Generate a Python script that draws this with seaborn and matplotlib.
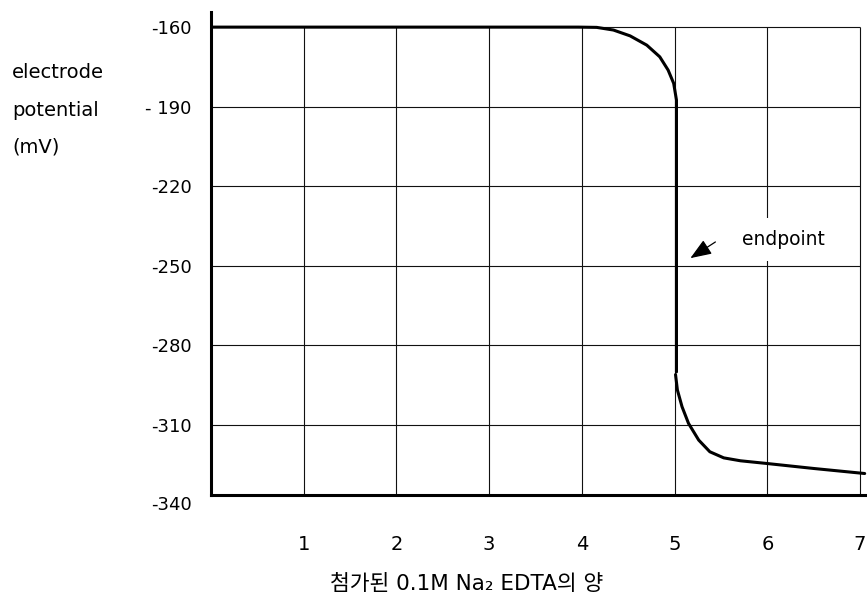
import numpy as np
import pandas as pd
import matplotlib
matplotlib.use('Agg')
import matplotlib.pyplot as plt
import seaborn as sns

# 적정 곡선 값
vol_upper = [0.0, 3.96, 4.16, 4.34, 4.52, 4.70, 4.84, 4.93, 4.99, 5.02, 5.02]
pot_upper = [-160.0, -160.0, -160.1, -161.1, -163.3, -166.8, -171.2, -176.2, -181.2, -187.5, -290.0]
vol_lower = [5.01, 5.03, 5.08, 5.15, 5.26, 5.38, 5.53, 5.71, 5.99, 6.50, 7.05]
pot_lower = [-291.0, -296.8, -303.1, -309.4, -315.7, -320.1, -322.4, -323.5, -324.5, -326.4, -328.3]

x_ticks = [1, 2, 3, 4, 5, 6, 7]
y_ticks = [-160, -190, -220, -250, -280, -310, -340]
y_tick_labels = ['-160', '- 190', '-220', '-250', '-280', '-310', '-340']

df_up = pd.DataFrame({'vol': vol_upper, 'pot': pot_upper})
df_lo = pd.DataFrame({'vol': vol_lower, 'pot': pot_lower})

sns.set_theme(style='white', rc={'text.color': 'black', 'axes.labelcolor': 'black',
                                 'xtick.color': 'black', 'ytick.color': 'black'})
plt.rcParams['font.family'] = ['DejaVu Sans', 'Noto Sans CJK KR']

y_bottom, y_top = -336.4, -154.3
x_left, x_right = 0, 7.075

fig = plt.figure(figsize=(8.67, 6.0), dpi=100)
ax = fig.add_axes([211 / 867, 1 - 495 / 600, (867 - 211) / 867, (495 - 12) / 600])

# 격자선: -160 위로는 그리지 않음
ax.vlines(x_ticks, y_bottom, max(y_ticks), color='#111111', linewidth=0.8, zorder=1)
ax.hlines(y_ticks[:-1], x_left, max(x_ticks), color='#111111', linewidth=0.8, zorder=1)

sns.lineplot(data=df_up, x='vol', y='pot', sort=False, estimator=None,
             color='black', linewidth=2.2, ax=ax, zorder=5)
sns.lineplot(data=df_lo, x='vol', y='pot', sort=False, estimator=None,
             color='black', linewidth=2.2, ax=ax, zorder=5)

ax.set_xlim(x_left, x_right)
ax.set_ylim(y_bottom, y_top)
ax.set_xticks(x_ticks)
ax.set_yticks(y_ticks[:-1])
ax.set_yticklabels(y_tick_labels[:-1])
ax.grid(False)
ax.tick_params(axis='both', length=0, colors='black')
ax.tick_params(axis='x', pad=29, labelsize=14)
ax.tick_params(axis='y', pad=14, labelsize=13)
ax.set_xlabel('')
ax.set_ylabel('')

for side in ['top', 'right']:
    ax.spines[side].set_visible(False)
for side in ['left', 'bottom']:
    ax.spines[side].set_color('black')
    ax.spines[side].set_linewidth(2.2)

# -340 눈금 글자 (축 범위 바로 아래)
ax.annotate(y_tick_labels[-1], xy=(0, y_ticks[-1]), xycoords=('axes fraction', 'data'),
            xytext=(-14, 0), textcoords='offset points', color='black',
            ha='right', va='center', fontsize=13, annotation_clip=False)

ax.text(6.17, -240.0, 'endpoint', ha='center', va='center', fontsize=13.5, zorder=6,
        color='black', bbox=dict(boxstyle='square,pad=0.65', fc='white', ec='none'))
ax.annotate('', xy=(5.17, -247.1), xytext=(5.44, -241.0),
            arrowprops=dict(arrowstyle='-|>,head_length=1.3,head_width=0.5',
                            mutation_scale=10, color='black', lw=0.9,
                            shrinkA=0, shrinkB=0),
            zorder=6)

fig.text(12 / 867, 1 - 110 / 600, 'electrode\npotential\n(mV)', color='black',
         ha='left', va='center', fontsize=14, linespacing=2.2)
fig.text(467 / 867, 1 - 584 / 600, '첨가된 0.1M Na₂ EDTA의 양', color='black',
         ha='center', va='center', fontsize=15.5)

fig.savefig('out.png', dpi=100)
